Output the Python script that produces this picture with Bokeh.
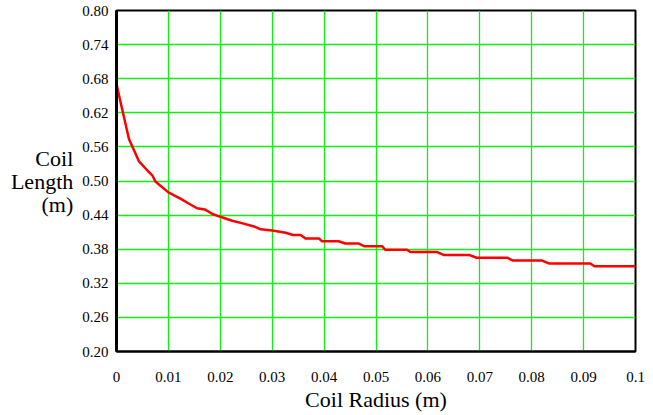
from bokeh.plotting import figure
from bokeh.models import FixedTicker, Range1d
from bokeh.embed import file_html
from bokeh.resources import INLINE

# Coil radius (m) vs coil length (m), vertices
radius = [0.0, 0.0024, 0.0043, 0.0060, 0.0069, 0.0075, 0.0100, 0.0123, 0.0140,
          0.0155, 0.0170, 0.0185, 0.0200, 0.0223, 0.0245, 0.0265, 0.0278, 0.0300,
          0.0326, 0.0340, 0.0355, 0.0364, 0.0390, 0.0396, 0.0428, 0.0441, 0.0467,
          0.0478, 0.0512, 0.0518, 0.0560, 0.0566, 0.0618, 0.0630, 0.0679, 0.0694,
          0.0753, 0.0764, 0.0820, 0.0833, 0.0913, 0.0921, 0.1000]
length = [0.670, 0.574, 0.535, 0.518, 0.510, 0.499, 0.480, 0.469, 0.460,
          0.452, 0.450, 0.442, 0.437, 0.430, 0.425, 0.420, 0.415, 0.413,
          0.409, 0.405, 0.405, 0.399, 0.399, 0.394, 0.394, 0.390, 0.390,
          0.385, 0.385, 0.379, 0.379, 0.375, 0.375, 0.370, 0.370, 0.365,
          0.365, 0.360, 0.360, 0.355, 0.355, 0.350, 0.350]

x_ticks = [0.0, 0.01, 0.02, 0.03, 0.04, 0.05, 0.06, 0.07, 0.08, 0.09, 0.1]
x_tick_labels = ["0", "0.01", "0.02", "0.03", "0.04", "0.05", "0.06", "0.07", "0.08", "0.09", "0.1"]
y_ticks = [0.20, 0.26, 0.32, 0.38, 0.44, 0.50, 0.56, 0.62, 0.68, 0.74, 0.80]
y_tick_labels = ["0.20", "0.26", "0.32", "0.38", "0.44", "0.50", "0.56", "0.62", "0.68", "0.74", "0.80"]

FONT = "'Liberation Serif', 'Times New Roman', serif"

p = figure(frame_width=519, frame_height=341, output_backend="svg", toolbar_location=None,
           x_range=Range1d(0, 0.1), y_range=Range1d(0.2, 0.8),
           min_border_left=116, min_border_top=10, min_border_right=10, min_border_bottom=60)
p.background_fill_color = "white"
p.border_fill_color = "white"
p.outline_line_color = "black"
p.outline_line_width = 2

p.line(radius, length, line_color="#ff0000", line_width=2.5)

for ax, ticks, labels in ((p.xaxis[0], x_ticks, x_tick_labels), (p.yaxis[0], y_ticks, y_tick_labels)):
    ax.ticker = FixedTicker(ticks=ticks)
    ax.major_label_overrides = {t: l for t, l in zip(ticks, labels)}
    ax.major_tick_line_color = None
    ax.minor_tick_line_color = None
    ax.major_tick_out = 0
    ax.major_tick_in = 0
    ax.major_label_text_font = FONT
    ax.major_label_text_font_size = "15px"
    ax.major_label_text_color = "black"
    ax.axis_line_color = "black"
    ax.axis_line_width = 2
    ax.axis_label_text_font = FONT
    ax.axis_label_text_font_size = "22px"
    ax.axis_label_text_font_style = "normal"
    ax.axis_label_text_color = "black"

p.yaxis.axis_line_width = 3
p.xaxis.major_label_standoff = 20
p.yaxis.major_label_standoff = 8
p.xaxis.axis_label = "Coil Radius (m)"
p.xaxis.axis_label_standoff = 2

p.yaxis.axis_label = "Coil\nLength\n(m)"
p.yaxis.axis_label_orientation = "horizontal"
p.yaxis.axis_label_standoff = 6
p.yaxis.axis_label_text_align = "center"
p.yaxis.axis_label_text_line_height = 0.92

p.xgrid.ticker = FixedTicker(ticks=x_ticks)
p.ygrid.ticker = FixedTicker(ticks=y_ticks)
p.grid.grid_line_color = "#11ee11"
p.grid.grid_line_width = 1.3

open("out.html", "w").write(file_html(p, INLINE))
